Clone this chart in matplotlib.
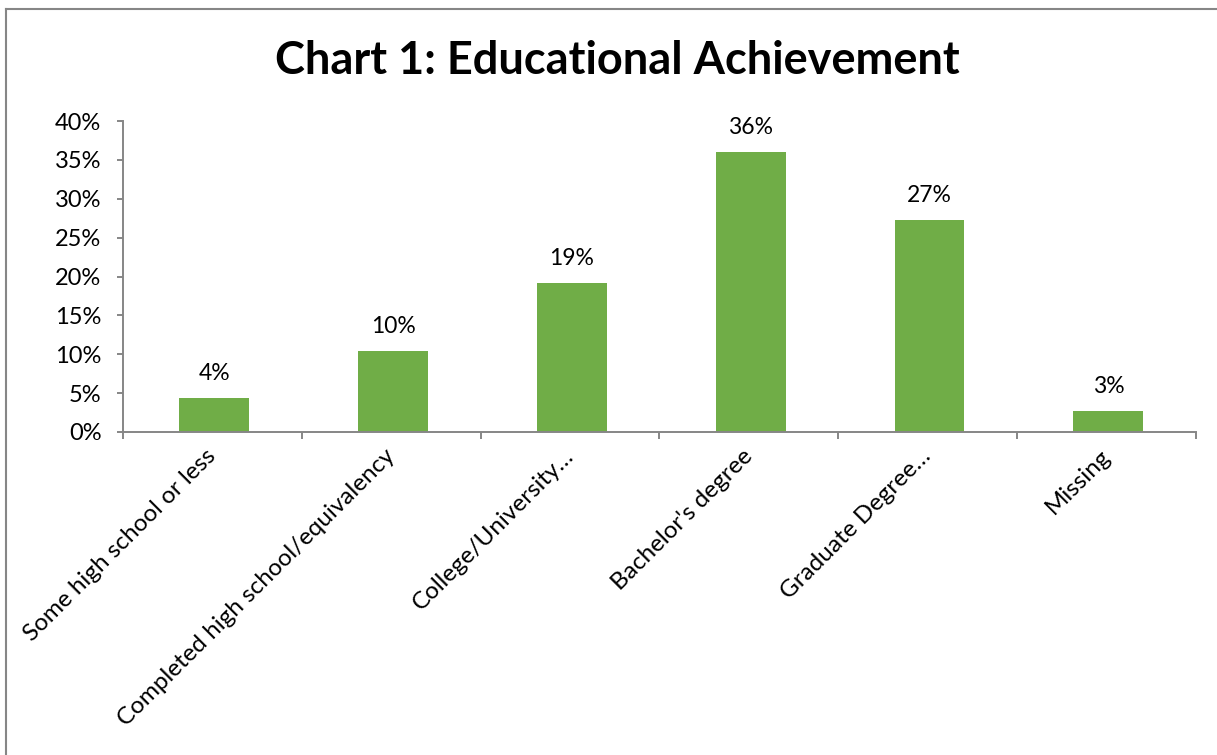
import matplotlib
matplotlib.use("Agg")
import matplotlib.pyplot as plt
from matplotlib.lines import Line2D
from matplotlib.ticker import FixedLocator, PercentFormatter

plt.rcParams["font.family"] = ["Lato", "DejaVu Sans"]

categories = [
    "Some high school or less",
    "Completed high school/equivalency",
    "College/University\u2026",
    "Bachelor's degree",
    "Graduate Degree\u2026",
    "Missing",
]
shares = [4.4, 10.4, 19.1, 36.0, 27.3, 2.7]   # percent of respondents
y_ticks = [0, 5, 10, 15, 20, 25, 30, 35, 40]
title = "Chart 1: Educational Achievement"

bar_color = "#70AD47"
axis_color = "#868686"

W, H = 1217, 755
fig = plt.figure(figsize=(W / 100, H / 100), dpi=100)
ax = fig.add_axes([123 / W, 1 - 432 / H, (1196 - 123) / W, (432 - 121) / H])

x = list(range(len(categories)))
ax.bar([i + 0.01 for i in x], shares, width=0.39, color=bar_color, zorder=2)

for i, v in enumerate(shares):
    ax.annotate(f"{v:.0f}%", (i + 0.01, v), xytext=(0, 13), textcoords="offset points",
                ha="center", va="baseline", fontsize=16.5, color="black")

ax.set_xlim(-0.5, len(categories) - 0.5)
ax.set_ylim(0, 40)
ax.yaxis.set_major_locator(FixedLocator(y_ticks))
ax.yaxis.set_major_formatter(PercentFormatter(decimals=0))

# category ticks sit between the bars; labels sit under the bar centres
ax.xaxis.set_major_locator(FixedLocator([i - 0.5 for i in range(len(categories) + 1)]))
ax.xaxis.set_major_formatter(plt.NullFormatter())
ax.xaxis.set_minor_locator(FixedLocator(x))
ax.set_xticklabels(categories, minor=True, rotation=45, ha="right", va="center",
                   rotation_mode="anchor", fontsize=17.5)
ax.tick_params(axis="x", which="minor", length=0, pad=15)
ax.tick_params(axis="x", which="major", length=5, width=1.4, color=axis_color, direction="out")
ax.tick_params(axis="y", length=4.5, width=1.4, color=axis_color, direction="out",
               pad=11, labelsize=17)

for side in ("top", "right"):
    ax.spines[side].set_visible(False)
for side in ("left", "bottom"):
    ax.spines[side].set_color(axis_color)
    ax.spines[side].set_linewidth(1.4)

fig.text(617 / W, 1 - 61 / H, title, ha="center", va="center",
         fontsize=32.5, fontweight="bold", color="black")

# chart area frame (left and top edges)
fig.add_artist(Line2D([6 / W, 6 / W], [0, 1 - 9 / H], transform=fig.transFigure,
                      color=axis_color, linewidth=1.5))
fig.add_artist(Line2D([6 / W, 1], [1 - 9 / H, 1 - 9 / H], transform=fig.transFigure,
                      color=axis_color, linewidth=1.5))

fig.savefig("out.png", dpi=100, facecolor="white")
